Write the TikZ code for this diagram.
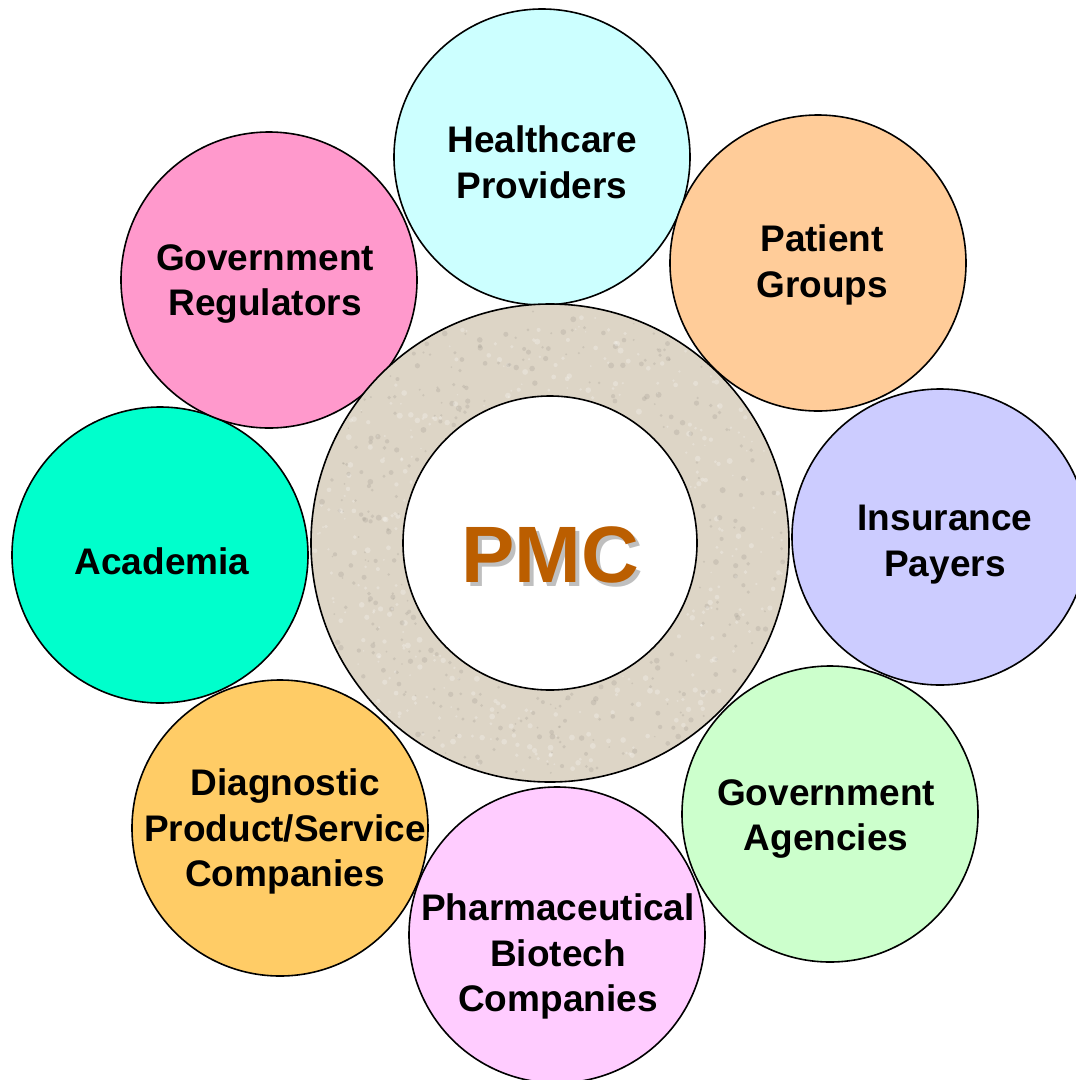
\documentclass[tikz,border=0pt]{standalone}
\usepackage{fontspec}
\setmainfont{Liberation Sans}
\usetikzlibrary{calc}
\begin{document}
\begin{tikzpicture}[x=1pt,y=-1pt,
  bubble/.style={circle,draw=black,line width=1.6pt,minimum size=296pt,inner sep=0pt},
  lbl/.style={font=\fontsize{37}{45.5}\selectfont\bfseries,align=center,text depth=0pt,inner sep=0pt},
  ringline/.style={draw=black,line width=1.6pt}]
\definecolor{cHC}{HTML}{CCFFFF}
\definecolor{cPG}{HTML}{FFCC99}
\definecolor{cIP}{HTML}{CCCCFF}
\definecolor{cGA}{HTML}{CCFFCC}
\definecolor{cPH}{HTML}{FFCCFF}
\definecolor{cDG}{HTML}{FFCC66}
\definecolor{cAC}{HTML}{00FFCC}
\definecolor{cGR}{HTML}{FF99CC}
\definecolor{cRing}{HTML}{DDD5C6}
\definecolor{cPMC}{HTML}{BB5E00}
\useasboundingbox (0,0) rectangle (1076,1080);
\clip (0,0) rectangle (1076,1080);
% circles
\node[bubble,fill=cAC] (ac) at (160,555) {};
\node[bubble,fill=cGR] (gr) at (269,280) {};
\node[bubble,fill=cHC] (hc) at (542,157) {};
\node[bubble,fill=cPG] (pg) at (818,263) {};
\node[bubble,fill=cIP] (ip) at (940,537) {};
\node[bubble,fill=cGA] (ga) at (830,814) {};
\node[bubble,fill=cDG] (dg) at (280,828) {};
\node[bubble,fill=cPH] (ph) at (557,935) {};
% ring
\node[circle,ringline,fill=cRing,minimum size=478pt,inner sep=0pt] (outer) at (550,543) {};
\pgfmathsetseed{7}
\foreach \i in {1,...,700}{
  \pgfmathsetmacro{\ang}{360*rnd}
  \pgfmathsetmacro{\rad}{151+84*rnd}
  \pgfmathsetmacro{\sz}{0.8+2.2*rnd}
  \pgfmathsetmacro{\sh}{rnd}
  \ifdim\sh pt<0.5pt
    \fill[black!30!cRing,opacity=0.25] ($(outer.center)+(\ang:\rad)$) circle (\sz);
  \else
    \fill[white,opacity=0.25] ($(outer.center)+(\ang:\rad)$) circle (\sz);
  \fi
}
\node[circle,ringline,fill=white,minimum size=294pt,inner sep=0pt] (inner) at (550,543) {};
% labels
\node[lbl] (thc) at (542,162) {Healthcare\\Providers};
\node[lbl] (tpg) at (822,261) {Patient\\Groups};
\node[lbl] (tip) at (945,541) {Insurance\\Payers};
\node[lbl] (tga) at (826,815) {Government\\Agencies};
\node[lbl] (tph) at (558,953) {Pharmaceutical\\Biotech\\Companies};
\node[lbl] (tdg) at (285,828) {Diagnostic\\Product/Service\\Companies};
\node[lbl] (tac) at (162,561) {Academia};
\node[lbl] (tgr) at (265,280) {Government\\Regulators};
% PMC with shadow
\node[lbl,font=\fontsize{80}{80}\selectfont\bfseries] (pmc) at (550,555)
  {\rlap{\kern4pt\raisebox{-3.5pt}{\textcolor{black!25}{PMC}}}\textcolor{cPMC}{PMC}};
\end{tikzpicture}
\end{document}
